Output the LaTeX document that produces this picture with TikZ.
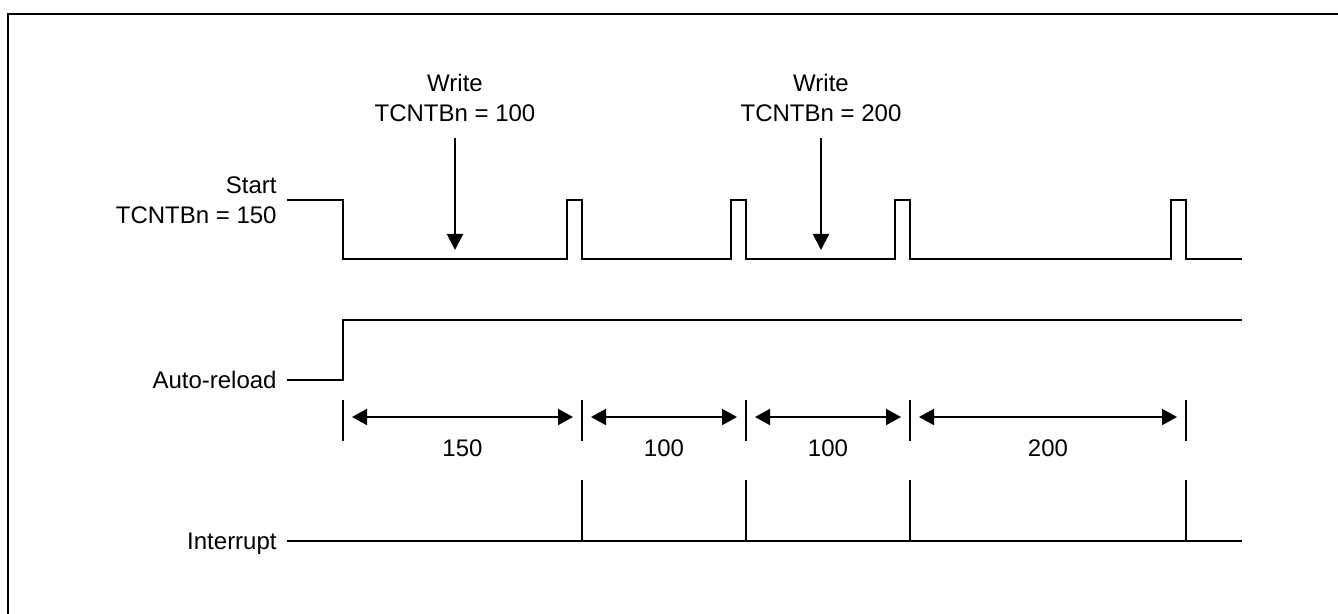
\documentclass[tikz,border=0pt]{standalone}
\usepackage{fontspec}
\setmainfont{Liberation Sans}
\usetikzlibrary{arrows.meta, positioning}

\begin{document}
\begin{tikzpicture}[
  x=0.5pt, y=-0.5pt,
  lbl/.style={font=\fontsize{12}{15}\selectfont, inner sep=0pt},
  siglbl/.style={lbl, anchor=east, text height=8.6pt, text depth=0pt},
  wave/.style={line width=1pt},
  marker/.style={line width=0.75pt},
  span/.style={{Triangle[length=7.5pt,width=8pt]}-{Triangle[length=7.5pt,width=8pt]}, line width=1pt},
  writearrow/.style={-{Triangle[length=8pt,width=8pt]}, line width=1pt}
]
\useasboundingbox (0,0) rectangle (1338,614);
% frame, cut off at right and bottom
\draw[line width=1.2pt] (1338,14) -| (8,614);

% signal names
\node[lbl, align=right, anchor=east] (start) at (277,200) {Start\\TCNTBn = 150};
\node[siglbl] (reload) at (277,380) {Auto-reload};
\node[siglbl] (intr) at (277,541) {Interrupt};

% writes to the buffer
\node[lbl, align=center] (write1) at (455,98) {Write\\TCNTBn = 100};
\node[lbl, align=center] (write2) at (821,98) {Write\\TCNTBn = 200};
\coordinate (hit1) at (455,250);
\coordinate (hit2) at (821,250);
\draw[writearrow, shorten <=8pt] (write1) -- (hit1);
\draw[writearrow, shorten <=8pt] (write2) -- (hit2);

% count signal
\draw[wave] ([xshift=5pt]start.east) -| (343,259)
  \foreach \e in {582,746,910,1186} { -- ({\e-15},259) |- (\e,200) -- (\e,259) }
  -- (1242,259);

% auto-reload
\draw[wave] ([xshift=5pt]reload.east) -| (343,320) -- (1242,320);

% interrupt
\draw[marker] ([xshift=5pt]intr.east) -- (1242,541);
\foreach \e in {582,746,910,1186}
  \draw[marker] (\e,480) -- (\e,541);

% periods
\foreach \e in {343,582,746,910,1186}
  \draw[marker] (\e,400) -- (\e,441);
\foreach \a/\b/\n [count=\i] in {343/582/150, 582/746/100, 746/910/100, 910/1186/200} {
  \coordinate (s\i) at (\a,417);
  \coordinate (e\i) at (\b,417);
  \draw[span, shorten <=4.5pt, shorten >=4.5pt] (s\i) -- (e\i)
    node[lbl, midway, yshift=-15.5pt] (len\i) {\n};
}
\end{tikzpicture}
\end{document}
